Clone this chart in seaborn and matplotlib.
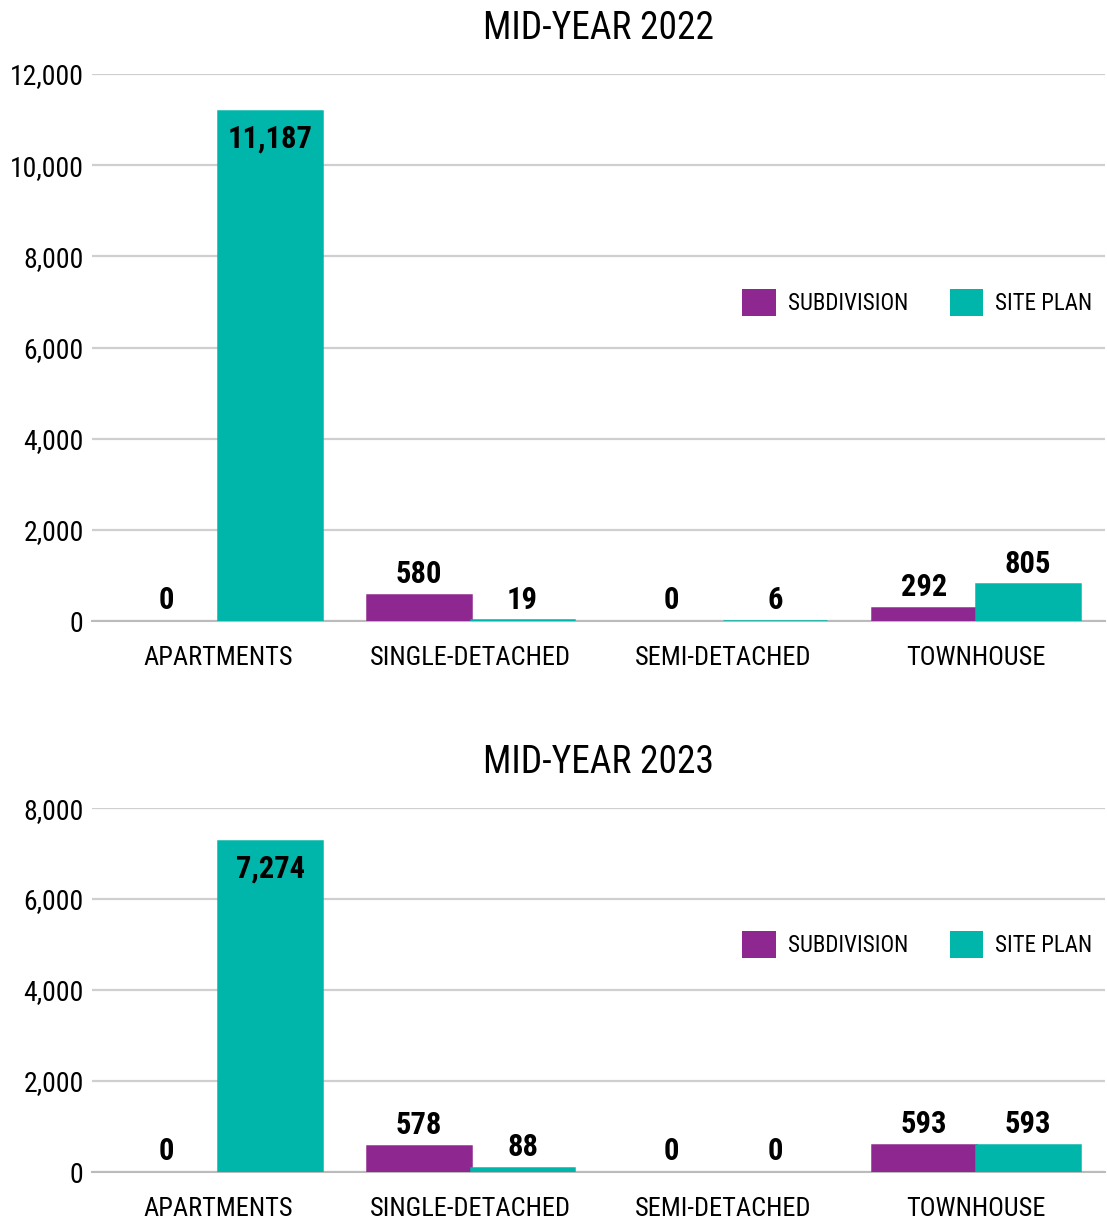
import matplotlib
matplotlib.use("Agg")
import matplotlib.pyplot as plt
import pandas as pd
import seaborn as sns
from matplotlib import font_manager

# ── Data ──────────────────────────────────────────────────────────────────────
categories      = ["APARTMENTS", "SINGLE-DETACHED", "SEMI-DETACHED", "TOWNHOUSE"]
series_names    = ["SUBDIVISION", "SITE PLAN"]
subdivision_2022 = [0, 580, 0, 292]
site_plan_2022   = [11187, 19, 6, 805]
subdivision_2023 = [0, 578, 0, 593]
site_plan_2023   = [7274, 88, 0, 593]
titles          = ["MID-YEAR 2022", "MID-YEAR 2023"]
ylims           = [12000, 8000]
yticks_2022     = [0, 2000, 4000, 6000, 8000, 10000, 12000]
yticks_2023     = [0, 2000, 4000, 6000, 8000]

PURPLE = "#8E278F"
TEAL   = "#00B5A9"
GRID   = "#cfcfcf"


def pick_font() -> str:
    """Prefer a condensed face, fall back to whatever is there."""
    names = {f.name for f in font_manager.fontManager.ttflist}
    for cand in ["Roboto Condensed", "Liberation Sans Narrow", "DejaVu Sans Condensed"]:
        if cand in names:
            return cand
    return "DejaVu Sans"


def long_frame(sub: list[int], site: list[int]) -> pd.DataFrame:
    rows = []
    for cat, a, b in zip(categories, sub, site):
        rows.append({"category": cat, "type": series_names[0], "value": a})
        rows.append({"category": cat, "type": series_names[1], "value": b})
    return pd.DataFrame(rows)


def draw_panel(ax, df, title, ymax, yticks, legend_y):
    sns.barplot(
        data=df, x="category", y="value", hue="type",
        order=categories, hue_order=series_names,
        palette=[PURPLE, TEAL], saturation=1, width=0.82,
        linewidth=0, ax=ax,
    )

    ax.set_ylim(0, ymax)
    ax.set_xlim(-0.5, 3.51)
    ax.set_yticks(yticks)
    ax.set_yticklabels([f"{t:,}" for t in yticks], fontsize=20)
    ax.grid(axis="y", color=GRID, linewidth=1.6)
    ax.set_axisbelow(True)
    ax.tick_params(axis="y", length=0, pad=6)

    # category separators as major ticks, labels on minor ticks
    ax.set_xticks([i - 0.5 for i in range(len(categories) + 1)])
    ax.set_xticklabels([])
    ax.set_xticks(range(len(categories)), minor=True)
    ax.set_xticklabels(categories, minor=True, fontsize=19)
    ax.tick_params(axis="x", which="major", length=11, width=1.5, color="#bbbbbb")
    ax.tick_params(axis="x", which="minor", length=0, pad=18)

    for side in ["left", "right", "top"]:
        ax.spines[side].set_visible(False)
    ax.spines["bottom"].set_color("#bbbbbb")
    ax.spines["bottom"].set_linewidth(1.5)

    ax.set_xlabel("")
    ax.set_ylabel("")
    ax.set_title(title, fontsize=27, pad=25)

    # value labels (tiny non-zero bars get a thin outline so they still show)
    for patch in ax.patches:
        h = patch.get_height()
        if patch.get_width() == 0:
            continue
        patch.set_zorder(3)   # keep bars above the axis line
        if h > 0:
            patch.set_edgecolor(patch.get_facecolor())
            patch.set_linewidth(1.8)
        cx = patch.get_x() + patch.get_width() / 2
        if h > 0.8 * ymax:
            ax.annotate(f"{int(round(h)):,}", (cx, h), xytext=(0, -9),
                        textcoords="offset points", ha="center", va="top",
                        fontsize=22, fontweight="bold")
        else:
            ax.annotate(f"{int(round(h)):,}", (cx, h), xytext=(0, 4),
                        textcoords="offset points", ha="center", va="bottom",
                        fontsize=22, fontweight="bold")

    sns.move_legend(
        ax, "center right", bbox_to_anchor=(0.997, legend_y), ncol=2,
        frameon=False, title=None, fontsize=16.5,
        handlelength=1.45, handleheight=1.45, handletextpad=0.55,
        columnspacing=1.8, borderaxespad=0,
    )


sns.set_style("white")
plt.rcParams["font.family"] = [pick_font(), "DejaVu Sans"]
plt.rcParams["text.color"] = "black"
plt.rcParams["xtick.color"] = "black"
plt.rcParams["ytick.color"] = "black"

fig = plt.figure(figsize=(11.07, 12.23), dpi=100)
ax_top = fig.add_axes([0.0831, 0.4922, 0.9149, 0.4473])
ax_bot = fig.add_axes([0.0831, 0.0417, 0.9149, 0.2976])

draw_panel(ax_top, long_frame(subdivision_2022, site_plan_2022),
           titles[0], ylims[0], yticks_2022, 0.583)
draw_panel(ax_bot, long_frame(subdivision_2023, site_plan_2023),
           titles[1], ylims[1], yticks_2023, 0.624)

fig.savefig("out.png", dpi=100)
plt.close(fig)
